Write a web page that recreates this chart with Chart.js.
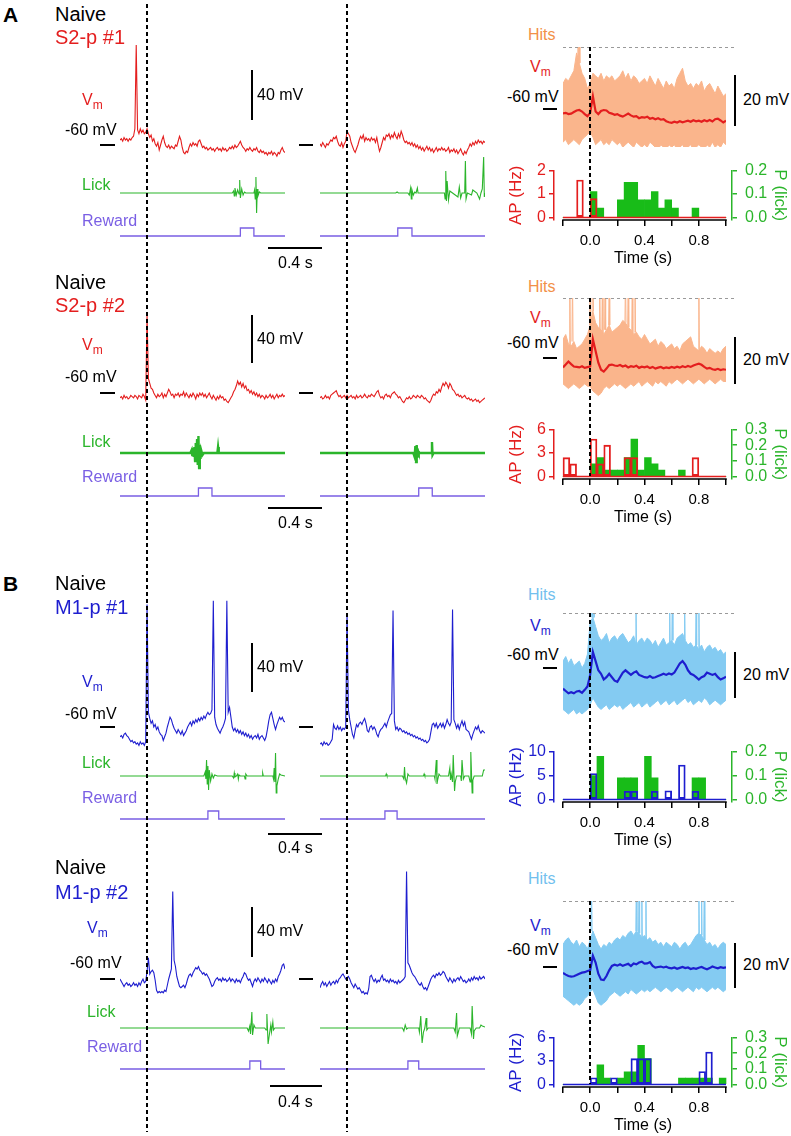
<!DOCTYPE html>
<html><head><meta charset="utf-8">
<script src="https://cdn.jsdelivr.net/npm/chart.js@4.4.1/dist/chart.umd.min.js"></script>
<style>
html,body{margin:0;padding:0;background:#fff}
body{width:791px;height:1136px;position:relative;overflow:hidden;font-family:"Liberation Sans",Arial,sans-serif}
canvas{position:absolute}
.t{position:absolute;white-space:nowrap;line-height:1;transform:translateY(-50%)}
.bx{position:absolute}
</style></head><body>
<script>
// ===================== DATA =====================
// raw single-trial traces: sampled every 0.01 s from -0.20 s to 1.02 s (mV)
const vmA1t1 = [
-56,-55,-57,-54,-56,-55,-57,-55,-56,-54,
-53,-47,20,-48,-51,-47,-50,-48,-51,-50,
-47,-51,-54,-52,-57,-55,-59,-61,-58,-64,
-60,-56,-53,-58,-61,-62,-60,-63,-61,-62,
-63,-60,-61,-57,-53,-56,-62,-66,-67,-65,
-66,-62,-59,-61,-58,-60,-59,-61,-57,-56,
-59,-62,-61,-63,-62,-64,-63,-62,-64,-63,
-65,-63,-62,-64,-63,-65,-62,-64,-63,-65,
-64,-62,-63,-61,-63,-60,-62,-61,-59,-57,
-60,-62,-63,-65,-63,-64,-62,-64,-65,-63,
-64,-62,-65,-66,-64,-66,-65,-67,-66,-68,
-66,-67,-65,-68,-66,-67,-69,-66,-67,-64,
-62,-65,-66];
const vmA1t2 = [
-59,-61,-58,-60,-62,-59,-60,-58,-56,-57,
-54,-55,-53,-57,-60,-61,-58,-62,-59,-57,
-49,-51,-53,-58,-61,-64,-66,-63,-60,-56,
-53,-55,-52,-57,-54,-56,-55,-57,-54,-56,
-55,-58,-54,-60,-65,-62,-58,-54,-56,-52,
-53,-51,-55,-52,-54,-50,-53,-55,-51,-54,
-49,-52,-56,-58,-57,-59,-58,-60,-58,-61,
-59,-62,-60,-63,-61,-64,-62,-65,-63,-61,
-64,-62,-65,-63,-66,-64,-62,-65,-63,-64,
-62,-64,-63,-65,-64,-62,-66,-64,-65,-63,
-66,-64,-67,-65,-63,-66,-68,-65,-67,-64,
-62,-59,-61,-58,-60,-57,-59,-56,-58,-57,
-59,-57,-58];
const vmA2t1 = [
-64,-63,-65,-62,-64,-63,-65,-64,-62,-63,
-64,-62,-63,-65,-62,-63,-64,-61,-63,-66,
5,-48,-52,-56,-57,-60,-62,-64,-61,-63,
-62,-60,-64,-61,-63,-60,-57,-59,-62,-61,
-64,-61,-62,-60,-63,-61,-62,-59,-63,-60,
-62,-64,-61,-63,-60,-62,-65,-61,-63,-60,
-62,-60,-63,-61,-64,-62,-60,-63,-65,-62,
-64,-66,-63,-65,-62,-64,-63,-66,-65,-67,
-68,-66,-64,-62,-59,-57,-54,-50,-53,-51,
-55,-52,-56,-54,-58,-57,-60,-58,-61,-59,
-62,-60,-63,-61,-64,-62,-63,-65,-62,-64,
-63,-61,-64,-62,-65,-63,-61,-64,-62,-63,
-61,-63,-62];
const vmA2t2 = [
-64,-63,-65,-64,-62,-64,-63,-65,-62,-61,
-60,-59,-58,-61,-63,-62,-64,-63,-62,-64,
-62,-64,-63,-62,-64,-63,-65,-62,-64,-63,
-62,-64,-63,-61,-63,-64,-62,-63,-61,-62,
-63,-61,-59,-58,-62,-64,-63,-65,-62,-61,
-63,-62,-64,-61,-60,-59,-61,-62,-64,-63,
-65,-67,-68,-66,-64,-65,-63,-65,-64,-62,
-63,-64,-62,-63,-64,-62,-63,-65,-64,-66,
-67,-68,-66,-63,-61,-62,-59,-60,-57,-59,
-55,-52,-54,-51,-53,-56,-52,-54,-57,-58,
-60,-62,-61,-63,-62,-64,-63,-62,-64,-65,
-64,-66,-65,-67,-66,-65,-67,-66,-68,-67,
-66,-65,-64];
const vmB1t1 = [
-68,-67,-69,-66,-65,-67,-68,-70,-72,-71,
-73,-72,-74,-73,-75,-72,-74,-73,-75,-72,
40,-48,-53,-57,-55,-60,-58,-62,-60,-64,
-66,-67,-71,-68,-65,-60,-56,-52,-54,-58,
-61,-63,-65,-62,-64,-66,-63,-67,-65,-63,
-60,-58,-56,-59,-55,-57,-54,-56,-53,-55,
-52,-54,-51,-53,-50,-48,-50,-49,-46,43,
-52,-58,-61,-63,-65,-62,-60,-57,-53,43,
-48,-44,-52,-60,-63,-61,-64,-62,-65,-63,
-66,-64,-67,-65,-68,-66,-69,-67,-70,-68,
-67,-69,-66,-70,-68,-67,-69,-71,-68,-62,
-55,-50,-48,-53,-58,-62,-58,-55,-52,-54,
-52,-55,-56];
const vmB1t2 = [
-74,-73,-75,-72,-74,-73,-75,-74,-72,-70,
-58,-61,-62,-59,-62,-60,-63,-61,-62,-60,
33,-46,-54,-60,-66,-69,-63,-58,-60,-57,
-56,-58,-55,-53,-57,-63,-64,-60,-59,-62,
-60,-62,-66,-68,-64,-62,-61,-59,-57,-60,
-56,-53,-50,-49,35,-55,-62,-60,-63,-61,
-62,-64,-63,-65,-64,-66,-65,-67,-66,-68,
-67,-69,-68,-70,-69,-71,-70,-72,-71,-73,
-72,-70,-64,-58,-57,-60,-57,-61,-59,-57,
-60,-57,-61,-58,-54,-57,-59,-56,36,-54,
-57,-61,-58,-62,-58,-55,-59,-56,-62,-63,
-64,-67,-70,-66,-63,-60,-62,-59,-63,-65,
-63,-64,-65];
const vmB2t1 = [
-60,-62,-64,-66,-64,-63,-65,-64,-66,-65,
-63,-65,-64,-66,-63,-65,-62,-60,-63,-62,
-54,-43,-56,-54,-53,-55,-61,-69,-71,-70,
-71,-70,-71,-69,-70,-65,-60,-56,-52,10,
-45,-50,-58,-62,-66,-67,-66,-65,-67,-64,
-60,-57,-56,-58,-55,-53,-51,-52,-50,-53,
-54,-56,-55,-57,-56,-58,-60,-63,-66,-65,
-62,-60,-59,-61,-60,-62,-59,-61,-60,-62,
-61,-59,-62,-60,-61,-63,-60,-62,-61,-63,
-60,-58,-55,-56,-59,-61,-60,-63,-66,-62,
-60,-62,-59,-61,-63,-60,-62,-59,-61,-63,
-60,-62,-64,-61,-63,-60,-62,-58,-56,-53,
-49,-48,-52];
const vmB2t2 = [
-67,-64,-62,-65,-63,-66,-64,-62,-65,-63,
-62,-64,-61,-63,-60,-59,-57,-56,-58,-60,
-59,-58,-60,-63,-65,-67,-64,-66,-68,-67,
-69,-71,-70,-72,-71,-72,-68,-58,-57,-60,
-62,-60,-63,-61,-62,-59,-57,-61,-60,-62,
-61,-63,-60,-62,-61,-63,-62,-64,-61,-63,
-62,-61,-60,-58,26,-47,-49,-52,-55,-57,
-58,-60,-62,-64,-65,-63,-66,-68,-67,-69,
-66,-63,-60,-58,-57,-59,-56,-57,-55,-57,
-56,-54,-55,-58,-60,-62,-59,-61,-63,-60,
-62,-60,-59,-61,-58,-60,-62,-61,-63,-62,
-60,-62,-59,-61,-58,-60,-59,-61,-58,-60,
-59,-58,-60];

// lick sensor traces: [time s, deflection]
const lickA1t1 = [[-0.2,0],[0.63,0],[0.64,2],[0.645,-3],[0.65,5],[0.66,-2],[0.67,3],[0.68,-1],[0.685,13],[0.69,-5],[0.70,4],[0.71,-2],[0.72,1],[0.73,0],[0.79,0],[0.795,3],[0.80,-6],[0.805,16],[0.81,-20],[0.815,4],[0.82,-3],[0.83,1],[0.84,0],[1.02,0]];
const lickA1t2 = [[-0.2,0],[0.36,0],[0.37,1],[0.38,0],[0.45,0],[0.46,-2],[0.47,5],[0.475,-6],[0.48,3],[0.49,-2],[0.50,1],[0.51,0],[0.52,5],[0.525,0],[0.72,0],[0.725,-6],[0.73,22],[0.735,-8],[0.74,12],[0.75,-7],[0.76,2],[0.78,0],[0.82,-4],[0.83,6],[0.84,-5],[0.85,0],[0.87,0],[0.875,32],[0.88,-6],[0.89,0],[0.92,-2],[0.93,3],[0.96,0],[0.98,-6],[0.99,0],[1.0,4],[1.01,36],[1.015,-4],[1.02,0]];
const lickA2t1 = [[-0.2,0],[0.32,0],[0.33,3],[0.335,-3],[0.34,5],[0.345,-4],[0.35,6],[0.355,-8],[0.36,10],[0.365,-6],[0.37,14],[0.375,-12],[0.38,17],[0.385,-15],[0.39,8],[0.395,-6],[0.40,3],[0.41,-2],[0.42,0],[0.52,0],[0.525,6],[0.53,0],[1.02,0]];
const lickA2t2 = [[-0.2,0],[0.49,0],[0.50,-4],[0.505,7],[0.51,-9],[0.515,8],[0.52,-5],[0.525,2],[0.53,0],[0.625,0],[0.628,11],[0.632,-2],[0.64,0],[1.02,0]];
const lickB1t1 = [[-0.2,0],[0.42,0],[0.43,4],[0.435,-3],[0.44,16],[0.445,-8],[0.45,10],[0.455,-14],[0.46,6],[0.47,-5],[0.48,2],[0.49,-2],[0.50,1],[0.52,0],[0.63,0],[0.64,-2],[0.645,3],[0.65,-1],[0.66,0],[0.67,2],[0.675,-3],[0.68,1],[0.69,0],[0.72,0],[0.725,-3],[0.73,2],[0.74,0],[0.85,0],[0.855,3],[0.86,0],[0.93,0],[0.935,-3],[0.94,8],[0.945,-6],[0.95,23],[0.955,-17],[0.96,-10],[0.97,-3],[0.98,2],[0.99,1],[1.02,0]];
const lickB1t2 = [[-0.2,0],[0.285,0],[0.29,2],[0.295,0],[0.41,0],[0.42,-3],[0.425,9],[0.43,-2],[0.44,-7],[0.45,2],[0.46,0],[0.565,0],[0.57,2],[0.575,0],[0.645,0],[0.65,-3],[0.66,16],[0.665,-8],[0.67,-4],[0.68,2],[0.69,0],[0.75,0],[0.76,8],[0.765,-4],[0.77,2],[0.78,-6],[0.785,21],[0.795,-15],[0.80,-6],[0.81,0],[0.84,0],[0.845,-5],[0.85,16],[0.86,-3],[0.87,0],[0.90,0],[0.91,-6],[0.915,24],[0.925,-17],[0.93,-4],[0.94,0],[1.0,0],[1.01,6],[1.02,6]];
const lickB2t1 = [[-0.2,0],[0.74,0],[0.75,-3],[0.76,2],[0.765,-6],[0.775,16],[0.78,-7],[0.79,3],[0.80,0],[0.87,0],[0.88,-2],[0.886,14],[0.895,-16],[0.905,-6],[0.915,3],[0.92,-4],[0.93,6],[0.935,-2],[0.945,0],[1.02,0]];
const lickB2t2 = [[-0.2,0],[0.41,0],[0.42,-3],[0.43,3],[0.44,-1],[0.45,0],[0.53,0],[0.535,-4],[0.545,12],[0.55,-3],[0.555,-15],[0.565,-4],[0.575,0],[0.585,10],[0.59,-2],[0.60,0],[0.79,0],[0.80,-4],[0.81,15],[0.815,-8],[0.825,-3],[0.83,0],[0.91,0],[0.92,-6],[0.925,22],[0.935,-11],[0.94,-3],[0.955,0],[0.98,0],[0.99,3],[1.0,2],[1.02,1]];

// reward valve opening [on s, off s]
const rewA1t1 = [0.69, 0.79], rewA1t2 = [0.375, 0.48];
const rewA2t1 = [0.38, 0.48], rewA2t2 = [0.53, 0.63];
const rewB1t1 = [0.45, 0.53], rewB1t2 = [0.28, 0.37];
const rewB2t1 = [0.76, 0.84], rewB2t2 = [0.45, 0.53];

// hit-trial averages (mV), sampled every 0.02 s from -0.2 to 1.0 s: mean, upper/lower envelope of single trials
const avgA1 = [-61.7,-61.5,-62,-61.8,-61.2,-60.6,-60.4,-61,-62,-62.8,
-61.5,-55,-61,-62,-60.8,-60.4,-60.6,-61.5,-61.8,-62.3,
-62,-62.6,-63,-62.4,-61.8,-62.5,-63,-62.8,-63.6,-63.2,
-63.4,-63,-63.8,-63.5,-64,-63.6,-64.2,-64,-64.8,-65.2,
-65.4,-65,-65.3,-64.8,-65.2,-64.9,-64.6,-65,-64.4,-64.8,
-64.6,-65,-64.4,-64.8,-64.3,-64.9,-64,-63.8,-64.5,-65.3,-64.6];
const hiA1 = [-50,-48,-49,-47,-45,-38,-42,-46,-48,-52,
-50,-46,-47,-48,-46,-49,-47,-48,-47,-49,
-48,-47,-45,-48,-46,-49,-47,-48,-50,-49,
-48,-50,-47,-49,-51,-48,-50,-52,-49,-51,
-50,-52,-48,-46,-44,-49,-51,-50,-52,-50,
-51,-49,-53,-51,-50,-52,-54,-51,-53,-55,-54];
const loA1 = [-73,-72,-74,-73,-72,-73,-74,-72,-71,-70,
-69,-71,-74,-73,-72,-74,-73,-74,-72,-73,
-74,-73,-75,-74,-73,-74,-75,-73,-74,-75,
-74,-75,-73,-74,-75,-76,-74,-75,-76,-74,
-75,-74,-76,-75,-74,-76,-75,-74,-76,-75,
-74,-75,-76,-74,-75,-73,-75,-74,-75,-73,-74];
const spkA1 = [-0.09, -0.08];

const avgA2 = [-64,-62.8,-61.5,-62.6,-63.6,-63.8,-64,-63.5,-64.2,-63.9,
-63.6,-52,-57,-62,-65,-65.8,-64.5,-63,-62.8,-63.2,
-63.4,-63,-63.6,-63.2,-64,-63.5,-63.8,-63.3,-64.2,-63.7,
-64,-63.6,-64.3,-63.8,-64.5,-64.1,-63.8,-64.4,-64,-64.3,
-63.8,-64.2,-63.7,-64.1,-63.5,-63.9,-63.4,-63.8,-63.2,-62.8,
-62.4,-62.9,-63.8,-64.5,-64.2,-64.8,-65,-64.6,-65.1,-64.8,-65];
const hiA2 = [-52,-50,-54,-55,-53,-56,-55,-54,-52,-50,
-46,-40,-45,-47,-48,-50,-48,-46,-49,-48,
-47,-46,-44,-45,-47,-48,-50,-49,-51,-52,
-50,-52,-54,-53,-52,-55,-53,-54,-56,-55,
-54,-56,-55,-57,-54,-53,-52,-51,-55,-56,
-57,-55,-56,-58,-56,-57,-58,-57,-58,-56,-55];
const loA2 = [-71,-72,-73,-72,-71,-72,-73,-72,-71,-72,
-72,-74,-75,-76,-75,-73,-72,-73,-72,-71,
-72,-71,-72,-73,-72,-71,-72,-71,-70,-72,
-71,-70,-71,-72,-70,-71,-70,-71,-72,-70,
-71,-70,-69,-70,-71,-70,-69,-70,-71,-70,
-69,-70,-71,-70,-69,-70,-71,-70,-69,-70,-70];
const spkA2 = [-0.15,-0.13,0.0,0.02,0.07,0.09,0.11,0.14,0.26,0.28,0.31,0.33,0.8];

const avgB1 = [-69,-70,-71,-70.5,-71,-70.2,-70,-70.8,-69.5,-68,
-63,-53,-57,-61,-62.5,-65,-64,-62.5,-64,-65.5,
-66,-64,-62,-61,-62,-63,-62,-61.5,-63,-63.5,
-64,-64.2,-63.5,-64.3,-64,-63.5,-63,-62.5,-63,-62.4,
-62.8,-62,-60,-58,-57,-58.5,-61,-62.5,-63,-64,
-65,-64,-63.5,-62,-62.5,-63,-62.5,-64,-65,-64.5,-63.8];
const hiB1 = [-57,-55,-58,-56,-59,-58,-57,-60,-58,-54,
-40,-38,-42,-46,-48,-47,-45,-49,-47,-46,
-48,-46,-45,-47,-49,-48,-46,-50,-48,-47,
-49,-47,-48,-50,-48,-51,-49,-47,-50,-49,
-48,-50,-47,-46,-45,-48,-50,-49,-51,-50,
-52,-50,-53,-51,-50,-52,-51,-53,-52,-54,-53];
const loB1 = [-78,-79,-80,-79,-78,-80,-79,-80,-79,-78,
-76,-73,-75,-77,-78,-77,-76,-78,-77,-76,
-77,-76,-78,-77,-76,-75,-77,-76,-75,-77,
-76,-75,-77,-76,-75,-74,-76,-75,-74,-76,
-75,-74,-76,-75,-74,-73,-75,-74,-76,-75,
-74,-75,-73,-74,-76,-75,-74,-75,-76,-75,-74];
const spkB1 = [0.015,0.027,0.337,0.585,0.605,0.695,0.78,0.8];

const avgB2 = [-62.6,-63.4,-64,-64.3,-64.1,-63.6,-63,-62.5,-62.3,-61.8,
-61.5,-55,-58,-63,-65.6,-65.8,-64,-61.5,-59.5,-59,
-59.4,-58.8,-59.5,-59,-58.6,-59.6,-58.4,-58.8,-58,-57.6,
-58.5,-58.4,-57.8,-59.5,-60.3,-60,-59.8,-60.2,-59.9,-60.4,
-60.6,-60.2,-60.8,-60.4,-60,-60.5,-60.2,-60.9,-60.5,-60.8,
-60.3,-60,-60.6,-61,-60.5,-59.8,-60.2,-60.6,-60.1,-60.4,-60.2];
const hiB2 = [-50,-48,-47,-49,-50,-48,-51,-49,-50,-52,
-48,-44,-47,-50,-52,-50,-51,-49,-50,-48,
-47,-48,-46,-47,-45,-44,-46,-44,-45,-47,
-46,-48,-47,-49,-48,-50,-49,-51,-49,-50,
-51,-49,-50,-52,-50,-49,-51,-50,-48,-46,
-45,-46,-48,-50,-49,-51,-50,-52,-50,-49,-50];
const loB2 = [-73,-74,-75,-76,-77,-76,-77,-76,-74,-73,
-71,-70,-73,-76,-77,-76,-75,-73,-72,-71,
-72,-73,-72,-71,-72,-70,-71,-72,-71,-70,
-71,-70,-71,-70,-69,-70,-71,-70,-69,-70,
-71,-70,-69,-70,-71,-70,-69,-70,-71,-69,
-70,-69,-70,-71,-70,-69,-70,-69,-70,-71,-70];
const spkB2 = [0.01,0.34,0.36,0.38,0.41,0.8,0.82,0.84];

// PSTH bins (start of each 0.05 s bin)
const histBins = [-0.2,-0.15,-0.1,-0.05,0,0.05,0.1,0.15,0.2,0.25,0.3,0.35,0.4,0.45,0.5,0.55,0.6,0.65,0.7,0.75,0.8,0.85,0.9,0.95];
const apA1    = [0,0,1.6,0,0.8,0,0,0,0,0,0,0,0,0,0,0,0,0,0,0,0,0,0,0];
const pLickA1 = [0,0,0,0,0.11,0.04,0,0,0.075,0.15,0.15,0.075,0.075,0.11,0.04,0.075,0.04,0,0,0.04,0,0,0,0];
const apA2    = [2.4,1.6,0,0,4.8,1.6,4.0,0,0,2.4,2.4,0,0,0,0,0,0,0,0,2.4,0,0,0,0];
const pLickA2 = [0,0,0,0,0.08,0.12,0.04,0.04,0.04,0.12,0.24,0.04,0.12,0.08,0.04,0,0,0.04,0,0,0,0,0,0];
const apB1    = [0,0,0,0,5.4,0,0,0,0,1.7,1.7,0,0,1.7,0,1.8,0,7.2,0,1.7,0,0,0,0];
const pLickB1 = [0,0,0,0,0.1,0.18,0,0,0.09,0.09,0.09,0,0.18,0.09,0,0,0,0,0,0.09,0.09,0,0,0];
const apB2    = [0,0,0,0,0.85,0,0,0.85,0,0,3.3,3.3,3.3,0,0,0,0,0,0,0,1.65,4.15,0,0];
const pLickB2 = [0,0,0,0,0,0.125,0.04,0,0.04,0.08,0.08,0.25,0.165,0,0,0,0,0.04,0.04,0.04,0.04,0.04,0,0.04];

// axis ticks
const timeTicks = [-0.2,0,0.2,0.4,0.6,0.8,1.0];
const timeTickLabels = ['','0.0','','0.4','','0.8',''];
const apTicksA1 = [0,1,2], lickTicksA1 = [0,0.1,0.2];
const apTicksA2 = [0,3,6], lickTicksA2 = [0,0.1,0.2,0.3];
const apTicksB1 = [0,5,10], lickTicksB1 = [0,0.1,0.2];
const apTicksB2 = [0,3,6], lickTicksB2 = [0,0.1,0.2,0.3];

// ===================== RENDERING =====================
const TRACE_T0 = -0.2, TRACE_DT = 0.01, TRACE_T1 = 1.02;
const AVG_T0 = -0.2, AVG_DT = 0.02;
const BIN_W = 0.05;
const RED = '#e41e1e', BLUE = '#1e1ecf', GREEN = '#2bb52b', GREENBAR = '#18bc18', PURPLE = '#7a5fe4';
const ORANGE_T = '#f29048', ORANGE_F = '#fab58c', LBLUE_T = '#72c0ee', LBLUE_F = '#84cbf2';
Chart.defaults.font.family = '"Liberation Sans", Arial, sans-serif';

const TRACE_W = 165;
const HX0 = 563, HX1 = 726;           // page px of -0.2 s and 1.0 s in the right panels
const AREA_L = 554, AREA_R = 732;      // histogram axes positions

function mkCanvas(x, y, w, h) {
  const c = document.createElement('canvas');
  c.width = w; c.height = h;
  c.style.left = x + 'px'; c.style.top = y + 'px';
  c.style.width = w + 'px'; c.style.height = h + 'px';
  document.body.appendChild(c);
  return c;
}
function txt(s, x, y, size, color, bold) {
  const d = document.createElement('div');
  d.className = 't'; d.innerHTML = s;
  d.style.left = x + 'px'; d.style.top = y + 'px';
  d.style.fontSize = size + 'px'; d.style.color = color || '#000';
  if (bold) d.style.fontWeight = 'bold';
  document.body.appendChild(d);
}
function rect(x, y, w, h, bg) {
  const d = document.createElement('div');
  d.className = 'bx';
  Object.assign(d.style, {left: x + 'px', top: y + 'px', width: w + 'px', height: h + 'px', background: bg, zIndex: 5});
  document.body.appendChild(d);
}
function vdash(x, y1, y2) { rect(x - 1, y1, 2, y2 - y1, 'repeating-linear-gradient(to bottom,#000 0 4px,transparent 4px 7px)'); }
function hdash(x1, x2, y) { rect(x1, y, x2 - x1, 1, 'repeating-linear-gradient(to right,#9a9a9a 0 3px,transparent 3px 6px)'); }
const vmLabel = () => 'V<span style="font-size:12px;position:relative;top:4px">m</span>';

const series = (vals, t0, dt) => vals.map((v, i) => ({x: +(t0 + i * dt).toFixed(4), y: v}));
const pairs = (arr) => arr.map(p => ({x: p[0], y: p[1]}));
const pulse = (r) => [{x: TRACE_T0, y: 0}, {x: r[0], y: 0}, {x: r[0], y: 1}, {x: r[1], y: 1}, {x: r[1], y: 0}, {x: TRACE_T1, y: 0}];

const baseOpts = () => ({
  responsive: false, animation: false, events: [],
  layout: {padding: 0},
  plugins: {legend: {display: false}, tooltip: {enabled: false}},
  elements: {point: {radius: 0}, line: {tension: 0}}
});

function yRange(anchorVal, anchorY, pxPerUnit, top, h) {
  const max = anchorVal + (anchorY - top) / pxPerUnit;
  return {min: max - h / pxPerUnit, max};
}

function traceChart(left, L, vm, lick, rew) {
  const c = mkCanvas(left, L.top, TRACE_W, L.h);
  const o = baseOpts();
  o.scales = {
    x: {type: 'linear', axis: 'x', display: false, min: TRACE_T0, max: TRACE_T1},
    yVm: {type: 'linear', axis: 'y', position: 'left', display: false, ...yRange(-60, L.vmY, L.vmK, L.top, L.h)},
    yLick: {type: 'linear', axis: 'y', position: 'left', display: false, ...yRange(0, L.lickY, 1, L.top, L.h)},
    yRew: {type: 'linear', axis: 'y', position: 'left', display: false, ...yRange(0, L.rewY, 8, L.top, L.h)}
  };
  new Chart(c, {type: 'line', data: {datasets: [
    {data: series(vm, TRACE_T0, TRACE_DT), yAxisID: 'yVm', borderColor: L.color, borderWidth: 1.1},
    {data: pairs(lick), yAxisID: 'yLick', borderColor: GREEN, borderWidth: L.lickW},
    {data: pulse(rew), yAxisID: 'yRew', borderColor: PURPLE, borderWidth: 1.3}
  ]}, options: o});
}

function avgChart(L, avg, hi, lo, spk) {
  const w = HX1 - HX0;
  const c = mkCanvas(HX0, L.oTop, w, L.oH);
  const yr = yRange(-60, L.oVmY, L.oK, L.oTop, L.oH);
  const spikeLines = [];
  spk.forEach(s => {
    const base = hi[Math.round((s - AVG_T0) / AVG_DT)];
    spikeLines.push({x: s - 0.004, y: base}, {x: s, y: yr.max + 10}, {x: s + 0.004, y: base}, {x: s + 0.005, y: null});
  });
  const o = baseOpts();
  o.scales = {x: {type: 'linear', display: false, min: -0.2, max: 1.0}, y: {display: false, ...yr}};
  new Chart(c, {type: 'line', data: {datasets: [
    {data: series(avg, AVG_T0, AVG_DT), borderColor: L.color, borderWidth: 2.2},
    {data: spikeLines, borderColor: L.band, borderWidth: 1, spanGaps: false},
    {data: series(hi, AVG_T0, AVG_DT), borderColor: L.band, borderWidth: 1, fill: '+1', backgroundColor: L.band},
    {data: series(lo, AVG_T0, AVG_DT), borderColor: L.band, borderWidth: 1}
  ]}, options: o});
}

function histChart(L, ap, pl, apTicks, plTicks) {
  const padTop = 10, xAxisH = 48;
  const areaBot = L.hZero + 3;
  const cTop = L.hTop - padTop, cH = padTop + (areaBot - L.hTop) + xAxisH;
  const c = mkCanvas(500, cTop, 291, cH);
  const apMax = apTicks[apTicks.length - 1], plMax = plTicks[plTicks.length - 1];
  const kAp = (L.hZero - L.hTop) / apMax, kPl = (L.hZero - L.hTop) / plMax;
  const kx = (HX1 - HX0) / (timeTicks[timeTicks.length - 1] - timeTicks[0]);
  const xmin = timeTicks[0] - (HX0 - AREA_L) / kx, xmax = timeTicks[timeTicks.length - 1] + (AREA_R - HX1) / kx;
  const o = baseOpts();
  o.layout = {padding: {top: padTop, left: 0, right: 0, bottom: 0}};
  o.scales = {
    x: {type: 'linear', axis: 'x', min: xmin, max: xmax, offset: false,
        afterBuildTicks: s => { s.ticks = timeTicks.map(v => ({value: v})); },
        afterFit: s => { s.height = xAxisH; },
        border: {display: false},
        grid: {offset: false, drawOnChartArea: false, drawTicks: true, tickLength: 6, color: '#000', lineWidth: 1.5},
        ticks: {autoSkip: false, maxRotation: 0, color: '#000', font: {size: 15}, padding: 6,
                callback: (v, i) => timeTickLabels[i]},
        title: {display: true, text: 'Time (s)', color: '#000', font: {size: 16}, padding: {top: 0, bottom: 0}}},
    yAP: {type: 'linear', axis: 'y', position: 'left', min: -3 / kAp, max: apMax,
        afterBuildTicks: s => { s.ticks = apTicks.map(v => ({value: v})); },
        afterFit: s => { s.width = AREA_L - 500; },
        border: {display: true, color: L.color, width: 1.5},
        grid: {drawOnChartArea: false, drawTicks: true, tickLength: 5, color: L.color, lineWidth: 1.5},
        ticks: {autoSkip: false, color: L.color, font: {size: 16}, padding: 3, callback: v => String(v)},
        title: {display: true, text: 'AP (Hz)', color: L.color, font: {size: 17}, padding: {top: 6, bottom: 0}}},
    yP: {type: 'linear', axis: 'y', position: 'right', min: -3 / kPl, max: plMax,
        afterBuildTicks: s => { s.ticks = plTicks.map(v => ({value: v})); },
        afterFit: s => { s.width = 791 - AREA_R; },
        border: {display: true, color: GREEN, width: 1.5},
        grid: {drawOnChartArea: false, drawTicks: true, tickLength: 5, color: GREEN, lineWidth: 1.5},
        ticks: {autoSkip: false, color: GREEN, font: {size: 16}, padding: 8, callback: v => v.toFixed(1)},
        title: {display: true, text: 'P (lick)', color: GREEN, font: {size: 17}, padding: {top: 1, bottom: 0}}}
  };
  const axisLine = {id: 'axisLine', afterDraw(ch) {
    const s = ch.scales.x, ctx = ch.ctx, y = ch.chartArea.bottom;
    ctx.save(); ctx.strokeStyle = '#000'; ctx.lineWidth = 1.5;
    ctx.beginPath(); ctx.moveTo(s.getPixelForValue(timeTicks[0]) - 0.75, y); ctx.lineTo(s.getPixelForValue(timeTicks[timeTicks.length - 1]) + 0.75, y); ctx.stroke();
    ctx.restore();
  }};
  const barCommon = {grouped: false, barPercentage: 1, categoryPercentage: 1, borderSkipped: false};
  new Chart(c, {type: 'bar', data: {datasets: [
    {type: 'bar', ...barCommon, data: histBins.map((b, i) => ({x: b + BIN_W / 2, y: ap[i]})), yAxisID: 'yAP',
     backgroundColor: 'rgba(255,255,255,0)', borderColor: L.color, borderWidth: 1.2, order: 0},
    {type: 'line', data: [{x: timeTicks[0], y: 0}, {x: timeTicks[timeTicks.length - 1], y: 0}], yAxisID: 'yAP',
     borderColor: L.color, borderWidth: 1.5, pointRadius: 0, order: 1},
    {type: 'bar', ...barCommon, data: histBins.map((b, i) => ({x: b + BIN_W / 2, y: pl[i]})), yAxisID: 'yP',
     backgroundColor: GREENBAR, borderWidth: 0, order: 2}
  ]}, options: o, plugins: [axisLine]});
}

// ---- layout of the four rows ----
const rows = [
  {id: 'A', title: 'S2-p #1', color: RED, hitsC: ORANGE_T, band: ORANGE_F, lickW: 1.1,
   top: 0, h: 262, vmY: 145, vmK: 1.25, lickY: 193, rewY: 236,
   naiveY: 14, titleY: 37, vmLabY: 100, vmLabX: 82, m60Y: 130, m60X: 65, barTop: 70, barBot: 120, bar40Y: 95,
   lickLabY: 185, rewLabY: 221, labX: 82, sbY: 248, sbX0: 268, sbX1: 322, sbTxtY: 263,
   oTop: 47, oH: 100, oVmY: 109, oK: 2.55, hitsY: 35, rVmY: 67, rM60Y: 97, r20Y: 100,
   hTop: 163, hZero: 217,
   vm: [vmA1t1, vmA1t2], lick: [lickA1t1, lickA1t2], rew: [rewA1t1, rewA1t2],
   avg: avgA1, hi: hiA1, lo: loA1, spk: spkA1, ap: apA1, pl: pLickA1, apT: apTicksA1, plT: lickTicksA1},
  {id: '', title: 'S2-p #2', color: RED, hitsC: ORANGE_T, band: ORANGE_F, lickW: 2.4,
   top: 262, h: 258, vmY: 393, vmK: 1.2, lickY: 453, rewY: 496,
   naiveY: 282, titleY: 305, vmLabY: 345, vmLabX: 82, m60Y: 377, m60X: 65, barTop: 315, barBot: 363, bar40Y: 339,
   lickLabY: 442, rewLabY: 477, labX: 82, sbY: 508, sbX0: 268, sbX1: 322, sbTxtY: 523,
   oTop: 298, oH: 100, oVmY: 358, oK: 2.35, hitsY: 287, rVmY: 318, rM60Y: 343, r20Y: 360,
   hTop: 422, hZero: 476,
   vm: [vmA2t1, vmA2t2], lick: [lickA2t1, lickA2t2], rew: [rewA2t1, rewA2t2],
   avg: avgA2, hi: hiA2, lo: loA2, spk: spkA2, ap: apA2, pl: pLickA2, apT: apTicksA2, plT: lickTicksA2},
  {id: 'B', title: 'M1-p #1', color: BLUE, hitsC: LBLUE_T, band: LBLUE_F, lickW: 1.1,
   top: 560, h: 280, vmY: 727, vmK: 1.225, lickY: 776, rewY: 819,
   naiveY: 583, titleY: 607, vmLabY: 682, vmLabX: 82, m60Y: 714, m60X: 65, barTop: 643, barBot: 692, bar40Y: 667,
   lickLabY: 763, rewLabY: 798, labX: 82, sbY: 834, sbX0: 268, sbX1: 322, sbTxtY: 848,
   oTop: 613, oH: 105, oVmY: 668, oK: 2.3, hitsY: 595, rVmY: 626, rM60Y: 655, r20Y: 675,
   hTop: 744, hZero: 799,
   vm: [vmB1t1, vmB1t2], lick: [lickB1t1, lickB1t2], rew: [rewB1t1, rewB1t2],
   avg: avgB1, hi: hiB1, lo: loB1, spk: spkB1, ap: apB1, pl: pLickB1, apT: apTicksB1, plT: lickTicksB1},
  {id: '', title: 'M1-p #2', color: BLUE, hitsC: LBLUE_T, band: LBLUE_F, lickW: 1.1,
   top: 845, h: 250, vmY: 979, vmK: 1.25, lickY: 1028, rewY: 1069,
   naiveY: 867, titleY: 892, vmLabY: 928, vmLabX: 87, m60Y: 963, m60X: 70, barTop: 907, barBot: 957, bar40Y: 931,
   lickLabY: 1012, rewLabY: 1047, labX: 87, sbY: 1086, sbX0: 270, sbX1: 322, sbTxtY: 1102,
   oTop: 901, oH: 108, oVmY: 967, oK: 2.25, hitsY: 879, rVmY: 926, rM60Y: 950, r20Y: 965,
   hTop: 1030, hZero: 1084,
   vm: [vmB2t1, vmB2t2], lick: [lickB2t1, lickB2t2], rew: [rewB2t1, rewB2t2],
   avg: avgB2, hi: hiB2, lo: loB2, spk: spkB2, ap: apB2, pl: pLickB2, apT: apTicksB2, plT: lickTicksB2}
];
const STIM1 = 147, STIM2 = 347, STIM_R = 590;

rows.forEach(L => {
  traceChart(STIM1 - 27, L, L.vm[0], L.lick[0], L.rew[0]);
  traceChart(STIM2 - 27, L, L.vm[1], L.lick[1], L.rew[1]);
  avgChart(L, L.avg, L.hi, L.lo, L.spk);
  histChart(L, L.ap, L.pl, L.apT, L.plT);
  if (L.id) txt(L.id, 3, L.naiveY, 21, '#000', true);
  txt('Naive', 55, L.naiveY, 20, '#000');
  txt(L.title, 55, L.titleY, 20, L.color);
  txt(vmLabel(), L.vmLabX, L.vmLabY, 16, L.color);
  txt('-60 mV', L.m60X, L.m60Y, 16, '#000');
  rect(100, L.vmY - 1, 15, 2, '#000');
  rect(299, L.vmY - 1, 14, 2, '#000');
  rect(251, L.barTop, 2, L.barBot - L.barTop, '#000');
  txt('40 mV', 257, L.bar40Y, 16, '#000');
  txt('Lick', L.labX, L.lickLabY, 16, GREEN);
  txt('Reward', L.labX, L.rewLabY, 16, PURPLE);
  rect(L.sbX0, L.sbY - 1, L.sbX1 - L.sbX0, 2, '#000');
  txt('0.4 s', 278, L.sbTxtY, 16, '#000');
  txt('Hits', 528, L.hitsY, 16, L.hitsC);
  txt(vmLabel(), 530, L.rVmY, 16, L.color);
  txt('-60 mV', 507, L.rM60Y, 16, '#000');
  rect(543, L.oVmY - 1, 14, 2, '#000');
  rect(734, L.r20Y - 10 * L.oK, 2, 20 * L.oK, '#000');
  txt('20 mV', 743, L.r20Y, 16, '#000');
  hdash(HX0, 734, L.oTop);
  vdash(STIM_R, L.oTop, L.hZero);
});
vdash(STIM1, 4, 1132);
vdash(STIM2, 4, 1132);
</script>
</body></html>
